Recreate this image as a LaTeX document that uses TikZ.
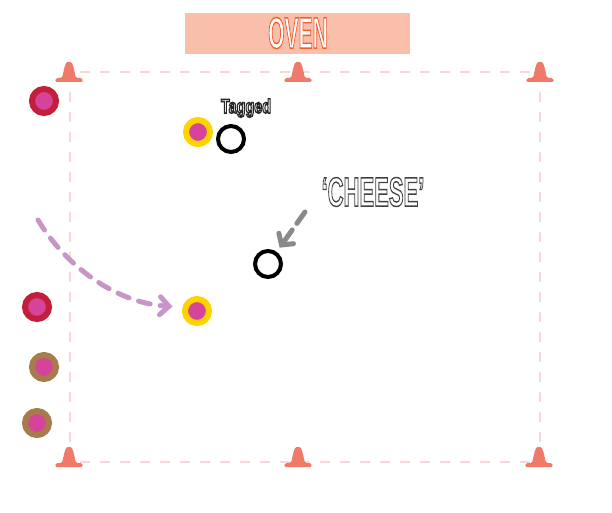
\documentclass[tikz,border=0pt]{standalone}
\usepackage{fontspec}
\setmainfont{Liberation Sans}
\usetikzlibrary{arrows.meta}
\definecolor{ovenbg}{HTML}{F9BFAA}
\definecolor{ovenline}{HTML}{EE5F30}
\definecolor{conecol}{HTML}{F07A6A}
\definecolor{fieldline}{HTML}{FAD6D6}
\definecolor{playerpink}{HTML}{D5449A}
\definecolor{redring}{HTML}{C41E3A}
\definecolor{yellowring}{HTML}{FFD200}
\definecolor{brownring}{HTML}{A87B4C}
\definecolor{runpurple}{HTML}{C995C9}
\definecolor{callgray}{HTML}{8A8A8A}
\newcommand{\hollow}[4]{{\color{#1}\special{pdf:code #2 rg #3 w 2 Tr}#4\special{pdf:code 0 Tr}}}
\tikzset{
  player/.style={circle,fill=playerpink,draw=#1,line width=6pt,minimum size=24pt,inner sep=0pt},
  chaser/.style={circle,draw=black,line width=4pt,minimum size=26pt,inner sep=0pt},
  cone/.pic={\fill[conecol,rounded corners=1.5pt] (-14,10) -- (-13,6) -- (-7,6)
    .. controls (-5,-2) and (-4,-10) .. (0,-10) .. controls (4,-10) and (5,-2) .. (7,6)
    -- (13,6) -- (14,10) -- cycle;}
}
\begin{document}
\begin{tikzpicture}[x=1pt,y=-1pt]
    \useasboundingbox (0,0) rectangle (612,513);
    \fill[ovenbg] (185,13) rectangle (410,54);
    \node (oven) at (298,33) {\scalebox{0.5}[1.05]{\fontsize{42}{42}\selectfont\bfseries\hollow{ovenline}{1 1 1}{1.4}{OVEN}}};
    \draw[fieldline,line width=1.2pt,dash pattern=on 10pt off 10pt] (70,72) rectangle (540,462);
    \pic at (69,72) {cone}; \pic at (298,72) {cone}; \pic at (540,72) {cone};
    \pic at (69,457) {cone}; \pic at (298,457) {cone}; \pic at (539,457) {cone};
    \node[player=redring] (red1) at (44,101) {};
    \node[player=redring] (red2) at (37,307) {};
    \node[player=brownring] (brown1) at (44,367) {};
    \node[player=brownring] (brown2) at (37,423) {};
    \node[player=yellowring] (yel1) at (198,132) {};
    \node[player=yellowring] (yel2) at (197,311) {};
    \node[chaser] (tagger) at (231,139) {};
    \node[chaser] (cheese) at (268,264) {};
    \node (tag) at (246,108) {\scalebox{0.8}[1.1]{\fontsize{18}{18}\selectfont\bfseries\hollow{black!85}{1 1 1}{1.3}{Tagged}}};
    \node (cheeselbl) at (373,192) {\scalebox{0.58}[1.08]{\fontsize{38}{38}\selectfont\bfseries\hollow{black!75}{1 1 1}{1.3}{‘CHEESE’}}};
    \coordinate (runstart) at (38,220);
    \coordinate (callstart) at (305,212);
    \draw[runpurple,line width=5pt,line cap=round,dash pattern=on 12pt off 10pt,
      -{Straight Barb[length=9pt,width=18pt,line cap=round]},shorten >=10pt]
      (runstart) .. controls (65,265) and (115,303) .. (yel2.165);
    \draw[callgray,line width=5pt,line cap=round,dash pattern=on 14pt off 8pt,
      -{Straight Barb[length=8pt,width=18pt,line cap=round]},shorten >=5pt]
      (callstart) -- (cheese);
\end{tikzpicture}
\end{document}
